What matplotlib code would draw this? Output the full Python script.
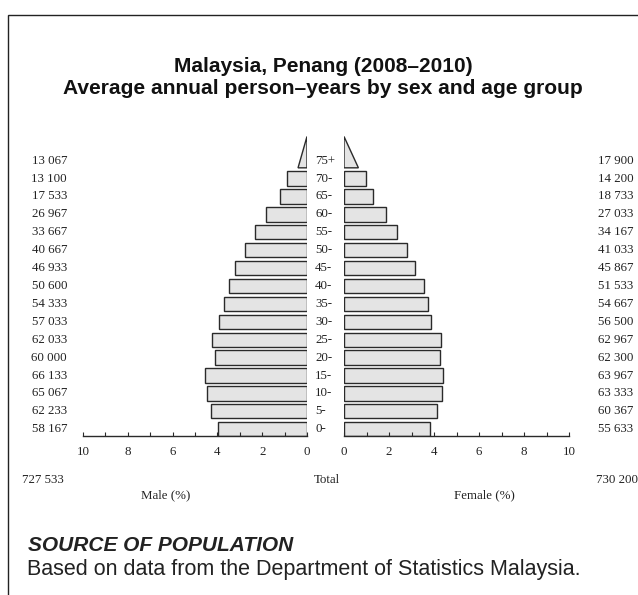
import numpy as np
import matplotlib
matplotlib.use("Agg")
import matplotlib.pyplot as plt
from matplotlib.patches import Polygon, Rectangle
from matplotlib.transforms import blended_transform_factory

# age groups, bottom to top
ages = ["0-", "5-", "10-", "15-", "20-", "25-", "30-", "35-", "40-", "45-",
        "50-", "55-", "60-", "65-", "70-", "75+"]
male_counts = [58167, 62233, 65067, 66133, 60000, 62033, 57033, 54333,
               50600, 46933, 40667, 33667, 26967, 17533, 13100, 13067]
female_counts = [55633, 60367, 63333, 63967, 62300, 62967, 56500, 54667,
                 51533, 45867, 41033, 34167, 27033, 18733, 14200, 17900]
male_total = "727 533"
female_total = "730 200"
# base width (%) of the open-ended 75+ triangles
male_top_base = 0.40
female_top_base = 0.64

W, H = 638, 595
fig = plt.figure(figsize=(W / 100, H / 100), dpi=100)

def fx(px):
    return px / W

def fy(py):
    return 1 - py / H

# frame (only top and left edges show)
fig.patches.append(Rectangle((fx(8), -0.1), 1.2, fy(15) + 0.1, transform=fig.transFigure,
                             fill=False, edgecolor="#222222", linewidth=1.0))

sans = "Liberation Sans"
serif = "Liberation Serif"
fs = 9.3
tc = "#222222"

fig.text(fx(323), fy(67), "Malaysia, Penang (2008\u20132010)", ha="center", va="center",
         fontsize=15, fontweight="bold", family=sans, color="#111111")
fig.text(fx(323), fy(88), "Average annual person\u2013years by sex and age group", ha="center",
         va="center", fontsize=15.1, fontweight="bold", family=sans, color="#111111")

grand = sum(male_counts) + sum(female_counts)
male_pct = [c / grand * 100 for c in male_counts]
female_pct = [c / grand * 100 for c in female_counts]

bot, top = -0.4, 16.4
axh = (436.4 - 135.6) / H
axb = fy(436.4)
axL = fig.add_axes([fx(83), axb, 224 / W, axh])
axR = fig.add_axes([fx(344), axb, 225 / W, axh])

ypos = np.arange(len(ages))
n = len(ages) - 1
fill = "#e4e4e4"
edge = "#2a2a2a"

axL.barh(ypos[:n], male_pct[:n], height=0.8, color=fill, edgecolor=edge, linewidth=1.0)
axR.barh(ypos[:n], female_pct[:n], height=0.8, color=fill, edgecolor=edge, linewidth=1.0)
axL.add_patch(Polygon([[0, n - 0.4], [male_top_base, n - 0.4], [0, n + 1.35]], closed=True,
                      facecolor=fill, edgecolor=edge, linewidth=1.0))
axR.add_patch(Polygon([[0, n - 0.4], [female_top_base, n - 0.4], [0, n + 1.35]], closed=True,
                      facecolor=fill, edgecolor=edge, linewidth=1.0))

for ax in (axL, axR):
    ax.set_ylim(bot, top)
    ax.set_yticks([])
    for s in ("top", "left", "right"):
        ax.spines[s].set_visible(False)
    ax.spines["bottom"].set_linewidth(1.0)
    ax.spines["bottom"].set_color(edge)
    ax.set_xticks(np.arange(0, 11, 2))
    ax.set_xticks(np.arange(0, 11, 1), minor=True)
    ax.tick_params(axis="x", which="both", direction="in", length=3, width=0.8,
                   colors=edge, labelsize=fs, pad=7)
    for lab in ax.get_xticklabels():
        lab.set_family(serif)
        lab.set_color(tc)
    ax.patch.set_visible(False)

axL.set_xlim(10, 0)
axR.set_xlim(0, 10)

trL = blended_transform_factory(fig.transFigure, axL.transData)
for i, a in enumerate(ages):
    fig.text(fx(67), i, f"{male_counts[i]:,}".replace(",", " "), transform=trL,
             ha="right", va="center", fontsize=fs, family=serif, color=tc)
    fig.text(fx(315), i, a, transform=trL, ha="left", va="center",
             fontsize=fs, family=serif, color=tc)
    fig.text(fx(598), i, f"{female_counts[i]:,}".replace(",", " "), transform=trL,
             ha="left", va="center", fontsize=fs, family=serif, color=tc)

fig.text(fx(22), fy(480), male_total, ha="left", va="center", fontsize=fs, family=serif,
         color=tc)
fig.text(fx(327), fy(480), "Total", ha="center", va="center", fontsize=fs, family=serif,
         color=tc)
fig.text(fx(638), fy(480), female_total, ha="right", va="center", fontsize=fs, family=serif,
         color=tc)
fig.text(fx(166), fy(495), "Male (%)", ha="center", va="center", fontsize=fs, family=serif,
         color=tc)
fig.text(fx(484), fy(495), "Female (%)", ha="center", va="center", fontsize=fs, family=serif,
         color=tc)

fig.text(fx(28), fy(551), "SOURCE OF POPULATION", ha="left", va="baseline", fontsize=15,
         fontweight="bold", style="italic", family=sans, color=tc)
fig.text(fx(27), fy(575), "Based on data from the Department of Statistics Malaysia.",
         ha="left", va="baseline", fontsize=15.5, family=sans, color=tc)

fig.savefig("out.png", dpi=100)
